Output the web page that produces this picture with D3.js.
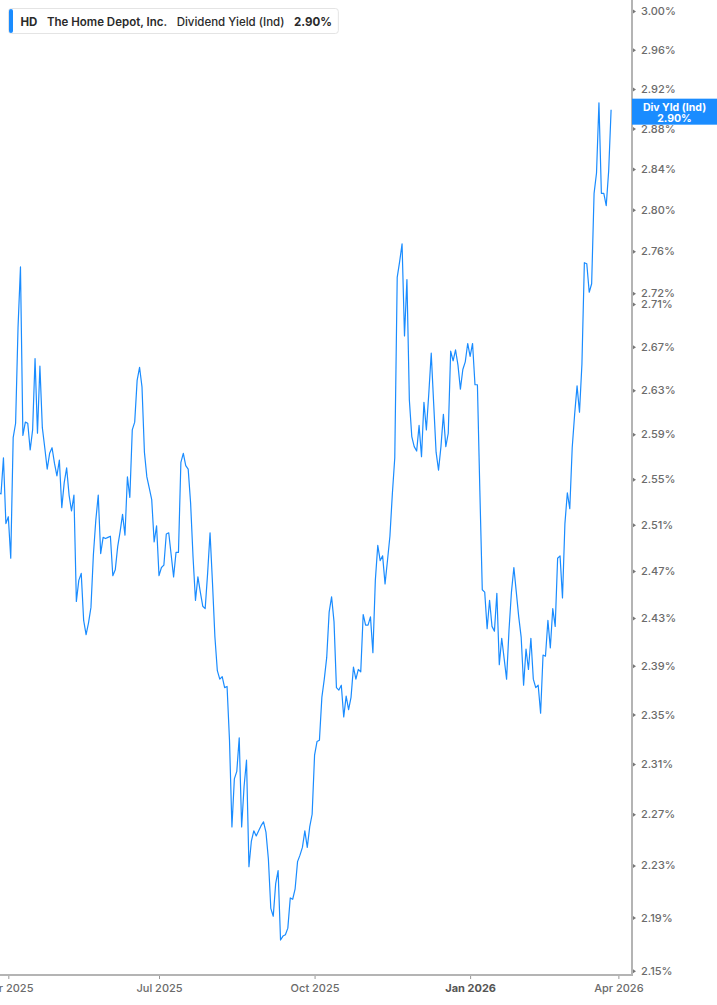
<!DOCTYPE html>
<html>
<head>
<meta charset="utf-8">
<script src="https://cdn.jsdelivr.net/npm/d3@7"></script>
<style>
  body { margin: 0; background: #fff; }
  text { font-family: Inter, "Noto Sans", sans-serif; }
</style>
</head>
<body>
<script>
//-----------------Data----------------

// trading sessions shown on the chart (one point each)
const dates = [
  "2025-03-26","2025-03-27","2025-03-28","2025-03-31",
  "2025-04-01","2025-04-02","2025-04-03","2025-04-04","2025-04-07","2025-04-08","2025-04-09","2025-04-10","2025-04-11","2025-04-14","2025-04-15","2025-04-16","2025-04-17","2025-04-21","2025-04-22","2025-04-23","2025-04-24","2025-04-25","2025-04-28","2025-04-29","2025-04-30",
  "2025-05-01","2025-05-02","2025-05-05","2025-05-06","2025-05-07","2025-05-08","2025-05-09","2025-05-12","2025-05-13","2025-05-14","2025-05-15","2025-05-16","2025-05-19","2025-05-20","2025-05-21","2025-05-22","2025-05-23","2025-05-27","2025-05-28","2025-05-29","2025-05-30",
  "2025-06-02","2025-06-03","2025-06-04","2025-06-05","2025-06-06","2025-06-09","2025-06-10","2025-06-11","2025-06-12","2025-06-13","2025-06-16","2025-06-17","2025-06-18","2025-06-20","2025-06-23","2025-06-24","2025-06-25","2025-06-26","2025-06-27","2025-06-30",
  "2025-07-01","2025-07-02","2025-07-03","2025-07-07","2025-07-08","2025-07-09","2025-07-10","2025-07-11","2025-07-14","2025-07-15","2025-07-16","2025-07-17","2025-07-18","2025-07-21","2025-07-22","2025-07-23","2025-07-24","2025-07-25","2025-07-28","2025-07-29","2025-07-30","2025-07-31",
  "2025-08-01","2025-08-04","2025-08-05","2025-08-06","2025-08-07","2025-08-08","2025-08-11","2025-08-12","2025-08-13","2025-08-14","2025-08-15","2025-08-18","2025-08-19","2025-08-20","2025-08-21","2025-08-22","2025-08-25","2025-08-26","2025-08-27","2025-08-28","2025-08-29",
  "2025-09-02","2025-09-03","2025-09-04","2025-09-05","2025-09-08","2025-09-09","2025-09-10","2025-09-11","2025-09-12","2025-09-15","2025-09-16","2025-09-17","2025-09-18","2025-09-19","2025-09-22","2025-09-23","2025-09-24","2025-09-25","2025-09-26","2025-09-29","2025-09-30",
  "2025-10-01","2025-10-02","2025-10-03","2025-10-06","2025-10-07","2025-10-08","2025-10-09","2025-10-10","2025-10-13","2025-10-14","2025-10-15","2025-10-16","2025-10-17","2025-10-20","2025-10-21","2025-10-22","2025-10-23","2025-10-24","2025-10-27","2025-10-28","2025-10-29","2025-10-30","2025-10-31",
  "2025-11-03","2025-11-04","2025-11-05","2025-11-06","2025-11-07","2025-11-10","2025-11-11","2025-11-12","2025-11-13","2025-11-14","2025-11-17","2025-11-18","2025-11-19","2025-11-20","2025-11-21","2025-11-24","2025-11-25","2025-11-26","2025-11-28",
  "2025-12-01","2025-12-02","2025-12-03","2025-12-04","2025-12-05","2025-12-08","2025-12-09","2025-12-10","2025-12-11","2025-12-12","2025-12-15","2025-12-16","2025-12-17","2025-12-18","2025-12-19","2025-12-22","2025-12-23","2025-12-24","2025-12-26","2025-12-29","2025-12-30","2025-12-31",
  "2026-01-02","2026-01-05","2026-01-06","2026-01-07","2026-01-08","2026-01-09","2026-01-12","2026-01-13","2026-01-14","2026-01-15","2026-01-16","2026-01-20","2026-01-21","2026-01-22","2026-01-23","2026-01-26","2026-01-27","2026-01-28","2026-01-29","2026-01-30",
  "2026-02-02","2026-02-03","2026-02-04","2026-02-05","2026-02-06","2026-02-09","2026-02-10","2026-02-11","2026-02-12","2026-02-13","2026-02-17","2026-02-18","2026-02-19","2026-02-20","2026-02-23","2026-02-24","2026-02-25","2026-02-26","2026-02-27",
  "2026-03-02","2026-03-03","2026-03-04","2026-03-05","2026-03-06","2026-03-09","2026-03-10","2026-03-11","2026-03-12","2026-03-13","2026-03-16","2026-03-17","2026-03-18","2026-03-19","2026-03-20","2026-03-23","2026-03-24","2026-03-25","2026-03-26","2026-03-27"
];

// dividend yield (indicated), percent
const yieldValues = [
  2.538, 2.537, 2.569, 2.511,
  2.517, 2.481, 2.587, 2.600, 2.688, 2.745, 2.589, 2.601, 2.600, 2.576, 2.594, 2.659, 2.591, 2.652, 2.596, 2.578, 2.559, 2.573, 2.578, 2.564, 2.553,
  2.567, 2.525, 2.547, 2.560, 2.536, 2.522, 2.536, 2.444, 2.462, 2.468, 2.428, 2.416, 2.426, 2.439, 2.484, 2.514, 2.536, 2.485, 2.499, 2.498, 2.499,
  2.500, 2.466, 2.471, 2.491, 2.504, 2.519, 2.501, 2.552, 2.534, 2.594, 2.601, 2.639, 2.651, 2.633, 2.574, 2.552, 2.542, 2.532, 2.495, 2.509,
  2.466, 2.473, 2.475, 2.502, 2.503, 2.484, 2.465, 2.486, 2.486, 2.565, 2.573, 2.562, 2.559, 2.529, 2.482, 2.445, 2.465, 2.452, 2.440, 2.438, 2.468, 2.503,
  2.460, 2.414, 2.386, 2.379, 2.381, 2.372, 2.373, 2.329, 2.260, 2.298, 2.304, 2.331, 2.260, 2.292, 2.313, 2.229, 2.249, 2.257, 2.253, 2.257, 2.261,
  2.264, 2.256, 2.235, 2.197, 2.191, 2.216, 2.226, 2.173, 2.176, 2.177, 2.182, 2.205, 2.204, 2.212, 2.233, 2.238, 2.244, 2.257, 2.244, 2.260, 2.270,
  2.317, 2.328, 2.329, 2.364, 2.379, 2.397, 2.435, 2.448, 2.427, 2.372, 2.370, 2.374, 2.348, 2.365, 2.354, 2.364, 2.389, 2.379, 2.387, 2.385, 2.433, 2.424, 2.424,
  2.431, 2.401, 2.462, 2.492, 2.479, 2.483, 2.459, 2.479, 2.500, 2.537, 2.569, 2.735, 2.750, 2.767, 2.680, 2.733, 2.621, 2.588, 2.579,
  2.575, 2.598, 2.570, 2.619, 2.594, 2.627, 2.664, 2.618, 2.574, 2.558, 2.579, 2.608, 2.579, 2.591, 2.666, 2.657, 2.667, 2.653, 2.631, 2.649, 2.656, 2.673,
  2.661, 2.673, 2.635, 2.635, 2.540, 2.454, 2.452, 2.421, 2.445, 2.423, 2.419, 2.451, 2.391, 2.413, 2.396, 2.379, 2.420, 2.452, 2.473, 2.452,
  2.431, 2.414, 2.374, 2.404, 2.387, 2.413, 2.379, 2.372, 2.374, 2.351, 2.399, 2.398, 2.428, 2.405, 2.438, 2.423, 2.481, 2.483, 2.447,
  2.511, 2.538, 2.524, 2.578, 2.608, 2.634, 2.610, 2.654, 2.749, 2.748, 2.721, 2.729, 2.816, 2.836, 2.906, 2.816, 2.816, 2.804, 2.838, 2.899
];

// sessions after the last point, only used for the axis
const futureDates = ["2026-03-30","2026-03-31","2026-04-01","2026-04-02","2026-04-06","2026-04-07","2026-04-08","2026-04-09"];

const quarterStarts = ["2025-04-01","2025-07-01","2025-10-01","2026-01-01","2026-04-01"];
const quarterLabels = ["Apr 2025","Jul 2025","Oct 2025","Jan 2026","Apr 2026"];

const yTicks = [3.00, 2.96, 2.92, 2.88, 2.84, 2.80, 2.76, 2.72, 2.71, 2.67, 2.63, 2.59, 2.55, 2.51, 2.47, 2.43, 2.39, 2.35, 2.31, 2.27, 2.23, 2.19, 2.15];

const ticker = "HD";
const company = "The Home Depot, Inc.";
const seriesName = "Dividend Yield (Ind)";
const shortName = "Div Yld (Ind)";

//-----------------Main svg----------------

const width = 717;
const height = 1005;
const plotRight = 632;
const plotBottom = 975;
const lineColor = "#1a8cff";
const axisColor = "#b4b4b4";
const labelColor = "#6b6b6b";

const svg = d3.select("body").append("svg").attr("width", width).attr("height", height);

//-----------------Scales----------------

const axisDates = dates.concat(futureDates);

const xScale = d3
  .scaleLinear()
  .domain([0.58, axisDates.length - 0.4])
  .range([0, plotRight]);

const yScale = d3.scaleLog().domain([2.1468, 3.0115]).range([plotBottom, 0]);

//-----------------Line----------------

svg
  .append("clipPath")
  .attr("id", "plot-clip")
  .append("rect")
  .attr("x", 0)
  .attr("y", 0)
  .attr("width", plotRight)
  .attr("height", plotBottom);

const line = d3
  .line()
  .x((d, i) => xScale(i))
  .y((d) => yScale(d));

svg
  .append("path")
  .datum(yieldValues)
  .attr("clip-path", "url(#plot-clip)")
  .attr("fill", "none")
  .attr("stroke", lineColor)
  .attr("stroke-width", 1.2)
  .attr("stroke-linejoin", "round")
  .attr("d", line);

//-----------------Axes----------------

const quarterIndex = quarterStarts.map((q) => axisDates.findIndex((d) => d >= q));

const xAxis = d3
  .axisBottom(xScale)
  .tickValues(quarterIndex)
  .tickSize(4)
  .tickPadding(5)
  .tickFormat((d, i) => quarterLabels[i]);

const xg = svg
  .append("g")
  .attr("id", "x-axis")
  .attr("transform", "translate(0," + plotBottom + ")")
  .call(xAxis);

xg.select(".domain").remove();
xg.selectAll(".tick line").attr("stroke", "#999");
xg.selectAll(".tick text")
  .style("font-size", "11px")
  .style("font-weight", (d, i) => (quarterLabels[i].startsWith("Jan") ? "700" : "500"))
  .style("fill", (d, i) => (quarterLabels[i].startsWith("Jan") ? "#555" : labelColor));

const yAxis = d3
  .axisRight(yScale)
  .tickValues(yTicks)
  .tickSize(0)
  .tickPadding(9)
  .tickFormat((d) => d.toFixed(2) + "%");

const yg = svg
  .append("g")
  .attr("id", "y-axis")
  .attr("transform", "translate(" + plotRight + ",0)")
  .call(yAxis);

yg.select(".domain").remove();
yg.selectAll(".tick text").attr("fill", labelColor).style("font-size", "11px").style("font-weight", "500");
yg.selectAll(".tick")
  .append("path")
  .attr("d", "M1,-2L4,0L1,2Z")
  .attr("fill", "#777");

// axis lines drawn on top
svg
  .append("line")
  .attr("x1", 0)
  .attr("x2", plotRight + 1)
  .attr("y1", plotBottom)
  .attr("y2", plotBottom)
  .attr("stroke", axisColor)
  .attr("stroke-width", 2);

svg
  .append("line")
  .attr("x1", plotRight)
  .attr("x2", plotRight)
  .attr("y1", 0)
  .attr("y2", plotBottom + 1)
  .attr("stroke", axisColor)
  .attr("stroke-width", 2);

//-----------------Last value tag----------------

const lastValue = yieldValues[yieldValues.length - 1];
const yLast = yScale(lastValue);

const tag = svg.append("g").attr("id", "last-tag");

tag
  .append("rect")
  .attr("x", plotRight)
  .attr("y", yLast - 11)
  .attr("width", width - plotRight)
  .attr("height", 26)
  .attr("fill", lineColor);

tag
  .append("text")
  .attr("x", (plotRight + width) / 2)
  .attr("y", yLast + 1)
  .attr("text-anchor", "middle")
  .attr("fill", "#fff")
  .style("font-size", "10.5px")
  .style("font-weight", "700")
  .text(shortName);

tag
  .append("text")
  .attr("x", (plotRight + width) / 2)
  .attr("y", yLast + 12)
  .attr("text-anchor", "middle")
  .attr("fill", "#fff")
  .style("font-size", "10.5px")
  .style("font-weight", "700")
  .text(lastValue.toFixed(2) + "%");

//-----------------Legend----------------

const legend = svg.append("g").attr("id", "legend");

const legendBox = legend
  .append("rect")
  .attr("x", 8.5)
  .attr("y", 8.5)
  .attr("height", 25)
  .attr("rx", 3)
  .attr("fill", "#fff")
  .attr("stroke", "#e4e4e4");

legend
  .append("rect")
  .attr("x", 9)
  .attr("y", 9)
  .attr("width", 4)
  .attr("height", 24)
  .attr("rx", 2)
  .attr("fill", lineColor);

const legendParts = [
  { text: ticker, weight: "700" },
  { text: company, weight: "600" },
  { text: seriesName, weight: "500" },
  { text: lastValue.toFixed(2) + "%", weight: "700" },
];

let cursor = 20.5;
legendParts.forEach((p) => {
  const t = legend
    .append("text")
    .attr("x", cursor)
    .attr("y", 25.5)
    .attr("fill", "#2a2a2a")
    .style("font-size", "11.5px")
    .style("font-weight", p.weight)
    .text(p.text);
  cursor += t.node().getComputedTextLength() + 9.5;
});

legendBox.attr("width", cursor - 8.5 - 3);
</script>
</body>
</html>
